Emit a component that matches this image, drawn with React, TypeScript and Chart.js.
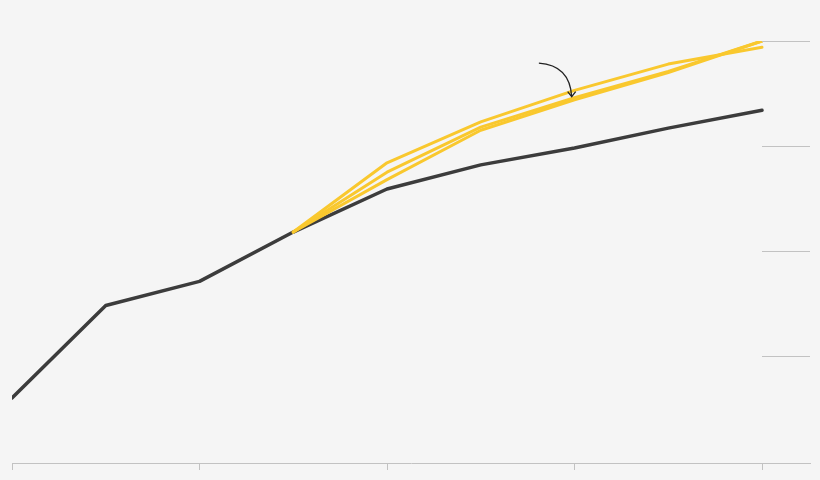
import React, { useEffect, useRef } from "react";
import { Chart, registerables } from "chart.js";

Chart.register(...registerables);

// x positions (periods) 0..8
const periods = [0, 1, 2, 3, 4, 5, 6, 7, 8];
const actual = [60, 148, 171, 218, 259, 282, 298, 317, 334];
const projA = [null, null, null, 218, 284, 323, 353, 378, 394];
const projB = [null, null, null, 218, 275, 318, 346, 371, 400];
const projC = [null, null, null, 218, 268, 315, 344, 370, 400];
const gridValues = [100, 200, 300, 400];
const xTickValues = [0, 2, 4, 6, 8];
// annotation arrow in data coordinates: start, control, end
const arrowStart = { x: 5.62, y: 379 };
const arrowCtrl = { x: 5.95, y: 377 };
const arrowEnd = { x: 5.97, y: 347 };

const YELLOW = "#f9c82e";
const DARK = "#3c3c3c";
const GRID = "#c2c2c2";

const toPts = (vals: (number | null)[]) =>
  periods.map((p, i) => ({ x: p, y: vals[i] }));

const decorPlugin = {
  id: "decor",
  afterDraw(chart: any) {
    const { ctx, chartArea, scales } = chart;
    const xs = scales.x;
    const ys = scales.y;
    ctx.save();
    // short right-side gridlines
    ctx.strokeStyle = GRID;
    ctx.lineWidth = 1;
    const x0 = xs.getPixelForValue(periods[periods.length - 1]);
    gridValues.forEach((v) => {
      const y = Math.round(ys.getPixelForValue(v)) + 0.5;
      ctx.beginPath();
      ctx.moveTo(x0, y);
      ctx.lineTo(chartArea.right, y);
      ctx.stroke();
    });
    // curved arrow
    const sx = xs.getPixelForValue(arrowStart.x);
    const sy = ys.getPixelForValue(arrowStart.y);
    const cx = xs.getPixelForValue(arrowCtrl.x);
    const cy = ys.getPixelForValue(arrowCtrl.y);
    const ex = xs.getPixelForValue(arrowEnd.x);
    const ey = ys.getPixelForValue(arrowEnd.y);
    ctx.strokeStyle = "#222";
    ctx.lineWidth = 1.3;
    ctx.beginPath();
    ctx.moveTo(sx, sy);
    ctx.quadraticCurveTo(cx, cy, ex, ey);
    ctx.stroke();
    ctx.beginPath();
    ctx.moveTo(ex - 4, ey - 5);
    ctx.lineTo(ex, ey);
    ctx.lineTo(ex + 4, ey - 5);
    ctx.stroke();
    ctx.restore();
  },
};

export default function App() {
  const ref = useRef<HTMLCanvasElement>(null);
  useEffect(() => {
    document.body.style.margin = "0";
    const lineDs = (label: string, vals: (number | null)[], color: string, w: number) => ({
      label,
      data: toPts(vals),
      borderColor: color,
      borderWidth: w,
      borderCapStyle: "round" as const,
      borderJoinStyle: "round" as const,
      pointRadius: 0,
      tension: 0,
      fill: false,
      spanGaps: false,
    });
    const chart = new Chart(ref.current!, {
      type: "line",
      data: {
        datasets: [
          lineDs("Projection A", projA, YELLOW, 3),
          lineDs("Projection B", projB, YELLOW, 3),
          lineDs("Projection C", projC, YELLOW, 3),
          lineDs("Actual", actual, DARK, 3.5),
        ],
      },
      options: {
        animation: false,
        responsive: false,
        maintainAspectRatio: false,
        layout: { padding: { left: 12, right: 10, top: 41, bottom: 10 } },
        plugins: { legend: { display: false }, tooltip: { enabled: false } },
        scales: {
          x: {
            type: "linear",
            min: 0,
            max: 8.512,
            afterBuildTicks: (scale: any) => {
              scale.ticks = xTickValues.map((v) => ({ value: v }));
            },
            ticks: { display: false, includeBounds: false },
            grid: {
              display: true,
              drawOnChartArea: false,
              drawTicks: true,
              tickLength: 7,
              color: GRID,
            },
            border: { display: true, color: GRID, width: 1 },
          },
          y: {
            display: false,
            min: -2,
            max: 400,
          },
        },
      },
      plugins: [decorPlugin],
    });
    return () => chart.destroy();
  }, []);
  return (
    <div style={{ width: 820, height: 480, background: "#f5f5f5" }}>
      <canvas ref={ref} width={820} height={480} style={{ display: "block" }} />
    </div>
  );
}
